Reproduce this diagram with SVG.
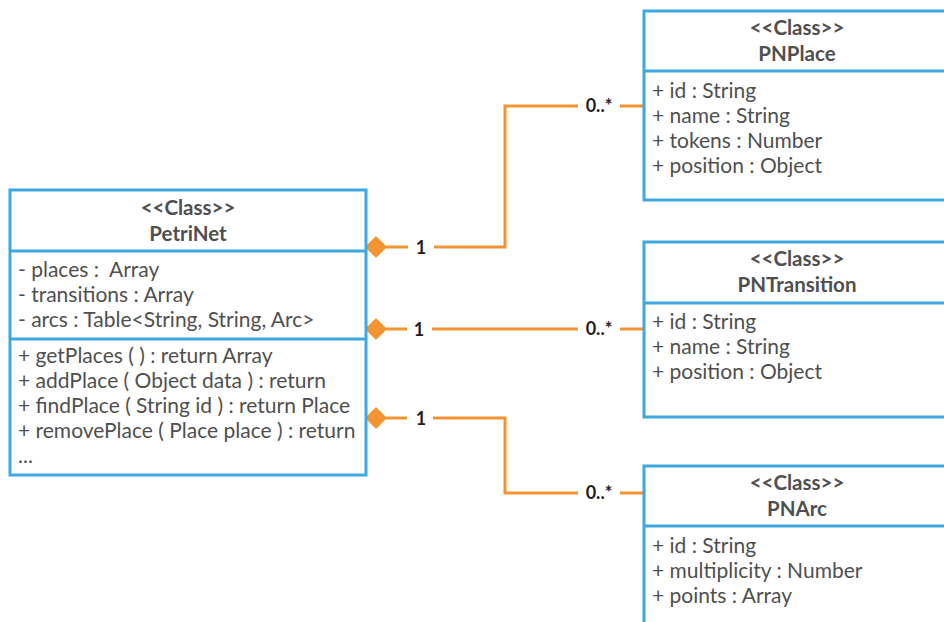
<svg xmlns="http://www.w3.org/2000/svg" width="944" height="622" viewBox="0 0 944 622">
  <style>
    .box { fill: #ffffff; stroke: #3ea8e2; stroke-width: 3; }
    .sep { stroke: #3ea8e2; stroke-width: 3; }
    .title { font-family: Lato, "Liberation Sans", sans-serif; font-size: 20.5px; font-weight: bold; fill: #4f4f4f; text-anchor: middle; }
    .row { font-family: Lato, "Liberation Sans", sans-serif; font-size: 21px; fill: #4f4f4f; }
    .link { fill: none; stroke: #f39433; stroke-width: 3; }
    .mult { font-family: Lato, "Liberation Sans", sans-serif; font-size: 18px; font-weight: bold; fill: #1e1e1e; text-anchor: middle; }
    .diamond { fill: #f39433; }
  </style>
  <rect width="944" height="622" fill="#ffffff"/>

  <!-- connectors: composition from PetriNet to its parts -->
  <g id="connectors">
    <!-- PetriNet to PNPlace -->
    <polygon class="diamond" points="365,247 376,236 387,247 376,258"/>
    <polyline class="link" points="386,247 408,247"/>
    <polyline class="link" points="434,247 505,247 505,106 578,106"/>
    <polyline class="link" points="620,106 644,106"/>
    <text class="mult" x="421" y="254">1</text>
    <text class="mult" x="599" y="112">0..*</text>

    <!-- PetriNet to PNTransition -->
    <polygon class="diamond" points="365,329 376,318 387,329 376,340"/>
    <polyline class="link" points="386,329 407,329"/>
    <polyline class="link" points="432,329 578,329"/>
    <polyline class="link" points="620,329 644,329"/>
    <text class="mult" x="419" y="336">1</text>
    <text class="mult" x="599" y="335">0..*</text>

    <!-- PetriNet to PNArc -->
    <polygon class="diamond" points="365,418 376,407 387,418 376,429"/>
    <polyline class="link" points="386,418 407,418"/>
    <polyline class="link" points="433,418 505,418 505,493 578,493"/>
    <polyline class="link" points="620,493 644,493"/>
    <text class="mult" x="421" y="425">1</text>
    <text class="mult" x="599" y="499">0..*</text>
  </g>

  <!-- PetriNet class -->
  <g id="PetriNet">
    <rect class="box" x="10" y="190" width="356" height="285"/>
    <line class="sep" x1="10" y1="251" x2="366" y2="251"/>
    <line class="sep" x1="10" y1="339" x2="366" y2="339"/>
    <text class="title" x="188" y="215">&lt;&lt;Class&gt;&gt;</text>
    <text class="title" x="188" y="241">PetriNet</text>
    <text class="row" x="18" y="277" xml:space="preserve">- places :  Array</text>
    <text class="row" x="18" y="302">- transitions : Array</text>
    <text class="row" x="18" y="327">- arcs : Table&lt;String, String, Arc&gt;</text>
    <text class="row" x="18" y="363">+ getPlaces ( ) : return Array</text>
    <text class="row" x="18" y="388">+ addPlace ( Object data ) : return</text>
    <text class="row" x="18" y="413">+ findPlace ( String id ) : return Place</text>
    <text class="row" x="18" y="438">+ removePlace ( Place place ) : return</text>
    <text class="row" x="18" y="463">...</text>
  </g>

  <!-- PNPlace class -->
  <g id="PNPlace">
    <rect class="box" x="644" y="11" width="306" height="189"/>
    <line class="sep" x1="644" y1="71" x2="950" y2="71"/>
    <text class="title" x="797" y="35">&lt;&lt;Class&gt;&gt;</text>
    <text class="title" x="797" y="61">PNPlace</text>
    <text class="row" x="652" y="98">+ id : String</text>
    <text class="row" x="652" y="123">+ name : String</text>
    <text class="row" x="652" y="148">+ tokens : Number</text>
    <text class="row" x="652" y="173">+ position : Object</text>
  </g>

  <!-- PNTransition class -->
  <g id="PNTransition">
    <rect class="box" x="644" y="242" width="306" height="175"/>
    <line class="sep" x1="644" y1="303" x2="950" y2="303"/>
    <text class="title" x="797" y="266">&lt;&lt;Class&gt;&gt;</text>
    <text class="title" x="797" y="292">PNTransition</text>
    <text class="row" x="652" y="329">+ id : String</text>
    <text class="row" x="652" y="354">+ name : String</text>
    <text class="row" x="652" y="379">+ position : Object</text>
  </g>

  <!-- PNArc class -->
  <g id="PNArc">
    <rect class="box" x="644" y="466" width="306" height="170"/>
    <line class="sep" x1="644" y1="526" x2="950" y2="526"/>
    <text class="title" x="797" y="490">&lt;&lt;Class&gt;&gt;</text>
    <text class="title" x="797" y="516">PNArc</text>
    <text class="row" x="652" y="553">+ id : String</text>
    <text class="row" x="652" y="578">+ multiplicity : Number</text>
    <text class="row" x="652" y="603">+ points : Array</text>
  </g>
</svg>
